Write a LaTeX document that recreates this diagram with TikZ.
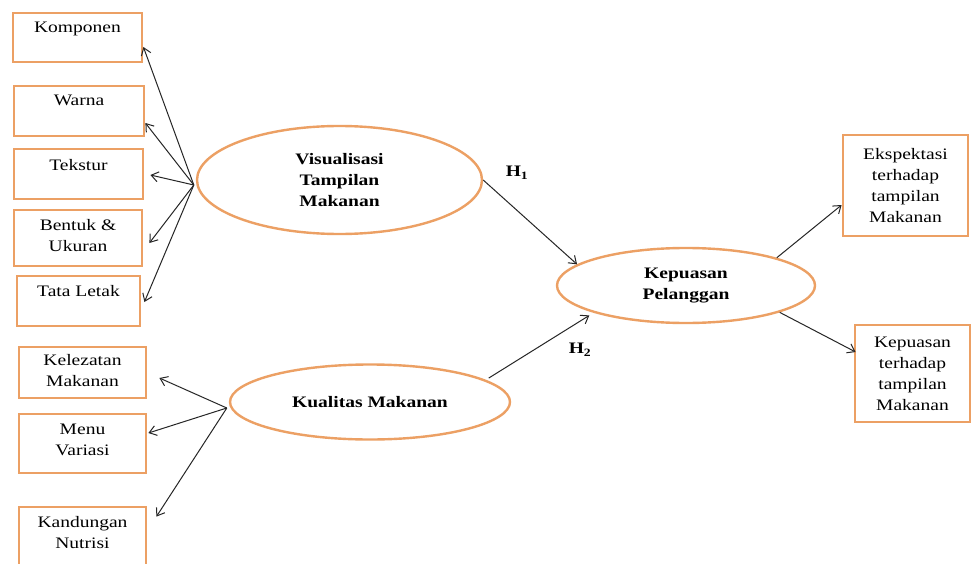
\documentclass[tikz,border=0pt]{standalone}
\usepackage{fontspec}
\setmainfont{Liberation Serif}[FakeStretch=1.22]
\usetikzlibrary{calc,shapes.geometric,arrows.meta}
\definecolor{borange}{RGB}{236,160,100}
\begin{document}
\begin{tikzpicture}[x=1pt,y=-1pt,
  box/.style={draw=borange,line width=2.8pt,rectangle,inner sep=0pt},
  oval/.style={draw=borange,line width=2.4pt,ellipse,inner sep=0pt,font=\fontsize{16}{21}\selectfont\bfseries,align=center},
  txt/.style={font=\fontsize{16}{21}\selectfont,align=center,inner sep=0pt},
  btxt/.style={font=\fontsize{16}{21}\selectfont\bfseries,align=center,inner sep=0pt},
  arr/.style={-{Straight Barb[length=7pt,width=10pt]},line width=1pt,black!85}]
\useasboundingbox[fill=white] (0,0) rectangle (973,564);

% left boxes (visual)
\node[box,minimum width=129pt,minimum height=49pt] (komp) at (77.5,37.5) {};
\node[txt,anchor=north] (kompt) at ($(komp.north)+(0,10)$) {Komponen};
\node[box,minimum width=130pt,minimum height=50pt] (warna) at (79,111) {};
\node[txt,anchor=north] (warnat) at ($(warna.north)+(0,10)$) {Warna};
\node[box,minimum width=129pt,minimum height=50pt] (tekstur) at (78.5,174) {};
\node[txt,anchor=north] (tekt) at ($(tekstur.north)+(0,12)$) {Tekstur};
\node[box,minimum width=128pt,minimum height=56pt] (bentuk) at (78,238) {};
\node[txt,anchor=north] (bentukt) at ($(bentuk.north)+(0,11)$) {Bentuk \&\\Ukuran};
\node[box,minimum width=123pt,minimum height=50pt] (tata) at (78.5,301) {};
\node[txt,anchor=north] (tatat) at ($(tata.north)+(0,11)$) {Tata Letak};

% left boxes (quality)
\node[box,minimum width=127pt,minimum height=51pt] (kelez) at (82.5,372.5) {};
\node[txt,anchor=north] (kelezt) at ($(kelez.north)+(0,9)$) {Kelezatan\\Makanan};
\node[box,minimum width=127pt,minimum height=59pt] (menu) at (82.5,443.5) {};
\node[txt,anchor=north] (menut) at ($(menu.north)+(0,11)$) {Menu\\Variasi};
\node[box,minimum width=127pt,minimum height=62pt] (kand) at (82.5,538) {};
\node[txt,anchor=north] (kandt) at ($(kand.north)+(0,11)$) {Kandungan\\Nutrisi};

% ellipses
\node[oval,minimum width=285pt,minimum height=108pt] (vis) at (339.5,180) {Visualisasi\\Tampilan\\Makanan};
\node[oval,minimum width=258pt,minimum height=75pt] (kp) at (686,285.5) {Kepuasan\\Pelanggan};
\node[oval,minimum width=280pt,minimum height=75pt] (kq) at (370,402) {Kualitas Makanan};

% right boxes
\node[box,minimum width=125pt,minimum height=101pt] (eksp) at (905.5,185.5) {};
\node[txt] (ekspt) at (eksp.center) {Ekspektasi\\terhadap\\tampilan\\Makanan};
\node[box,minimum width=115pt,minimum height=97pt] (kepr) at (912.5,373.5) {};
\node[txt] (keprt) at (kepr.center) {Kepuasan\\terhadap\\tampilan\\Makanan};

% labels
\node[btxt] (h1) at (517,173) {H\textsubscript{1}};
\node[btxt] (h2) at (580,350) {H\textsubscript{2}};

% arrows from Visualisasi
\coordinate (vsrc) at ($(vis.west)+(-2,5)$);
\draw[arr] (vsrc) -- ($(komp.east)+(0,9.5)$);
\draw[arr] (vsrc) -- ($(warna.east)+(0,12)$);
\draw[arr] (vsrc) -- ($(tekstur.east)+(6,1)$);
\draw[arr] (vsrc) -- ($(bentuk.east)+(6,5)$);
\draw[arr] (vsrc) -- ($(tata.east)+(3,1)$);

% arrows from Kualitas
\coordinate (qsrc) at ($(kq.west)+(-2,6)$);
\draw[arr] (qsrc) -- ($(kelez.east)+(12,5.5)$);
\draw[arr] (qsrc) -- ($(menu.east)+(1,-10.5)$);
\draw[arr] (qsrc) -- ($(kand.north east)+(9,11)$);

% structural arrows
\draw[arr] (vis.east) -- (kp.169);
\draw[arr] ($(kq.10)+(0,-3)$) -- ($(kp.195)+(0,4)$);
\draw[arr] (kp.17) -- ($(eksp.west)+(0,19.5)$);
\draw[arr] (kp.-16) -- ($(kepr.west)+(2,-21.5)$);
\end{tikzpicture}
\end{document}
